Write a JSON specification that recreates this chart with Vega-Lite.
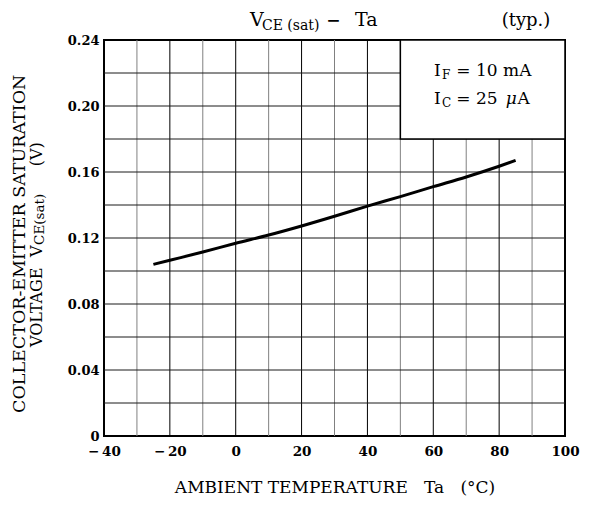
{
  "$schema": "https://vega.github.io/schema/vega-lite/v6.json",
  "width": 461,
  "height": 396,
  "autosize": {"type": "none"},
  "padding": {"left": 104, "top": 40, "right": 25, "bottom": 71},
  "background": "white",
  "config": {
    "view": {"stroke": "black", "strokeWidth": 2},
    "font": "DejaVu Serif",
    "text": {"font": "DejaVu Serif", "fill": "black", "align": "left", "baseline": "alphabetic", "fontWeight": "normal"}
  },
  "datasets": {
    "curve": [
      {"Ta": -25, "V": 0.104},
      {"Ta": -20, "V": 0.1065},
      {"Ta": -10, "V": 0.1115},
      {"Ta": 0, "V": 0.1168},
      {"Ta": 10, "V": 0.1218},
      {"Ta": 20, "V": 0.1273},
      {"Ta": 30, "V": 0.1332},
      {"Ta": 40, "V": 0.1393},
      {"Ta": 50, "V": 0.1451},
      {"Ta": 60, "V": 0.1511},
      {"Ta": 70, "V": 0.157},
      {"Ta": 80, "V": 0.1635},
      {"Ta": 85, "V": 0.167}
    ],
    "one": [{}]
  },
  "data": {"name": "one"},
  "layer": [
    {
      "data": {"values": [{"Ta": -30}, {"Ta": -10}, {"Ta": 10}, {"Ta": 30}, {"Ta": 50}, {"Ta": 70}, {"Ta": 90}]},
      "mark": {"type": "rule", "stroke": "#808080", "strokeWidth": 1},
      "encoding": {"x": {"field": "Ta", "type": "quantitative"}}
    },
    {
      "data": {"values": [{"Ta": -20}, {"Ta": 0}, {"Ta": 20}, {"Ta": 40}, {"Ta": 60}, {"Ta": 80}]},
      "mark": {"type": "rule", "stroke": "black", "strokeWidth": 1},
      "encoding": {"x": {"field": "Ta", "type": "quantitative"}}
    },
    {
      "data": {"values": [{"V": 0.02}, {"V": 0.04}, {"V": 0.06}, {"V": 0.08}, {"V": 0.1}, {"V": 0.12}, {"V": 0.14}, {"V": 0.16}, {"V": 0.18}, {"V": 0.2}, {"V": 0.22}]},
      "mark": {"type": "rule", "stroke": "#1a1a1a", "strokeWidth": 1},
      "encoding": {"y": {"field": "V", "type": "quantitative"}}
    },
    {
      "data": {"name": "curve"},
      "mark": {"type": "line", "color": "black", "strokeWidth": 3, "interpolate": "monotone"},
      "encoding": {
        "x": {
          "field": "Ta", "type": "quantitative",
          "scale": {"domain": [-40, 100], "nice": false, "zero": false},
          "axis": {
            "values": [-40, -20, 0, 20, 40, 60, 80, 100],
            "grid": false,
            "ticks": false,
            "domain": false,
            "labelExpr": "datum.value < 0 ? '−\u2009' + (-datum.value) : '' + datum.value",
            "labelFont": "DejaVu Serif",
            "labelFontSize": 13.5,
            "labelFontWeight": "bold",
            "labelColor": "black",
            "labelPadding": 8,
            "labelFlush": false,
            "labelOverlap": false,
            "title": "AMBIENT TEMPERATURE\u00a0\u00a0\u00a0Ta\u00a0\u00a0\u00a0(°C)",
            "titleFont": "DejaVu Serif",
            "titleFontSize": 17,
            "titleFontWeight": "normal",
            "titleColor": "black",
            "titlePadding": 22
          }
        },
        "y": {
          "field": "V", "type": "quantitative",
          "scale": {"domain": [0, 0.24], "nice": false},
          "axis": {
            "values": [0, 0.04, 0.08, 0.12, 0.16, 0.2, 0.24],
            "grid": false,
            "ticks": false,
            "domain": false,
            "labelExpr": "datum.value === 0 ? '0' : format(datum.value, '.2f')",
            "labelFont": "DejaVu Serif",
            "labelFontSize": 13,
            "labelFontWeight": "bold",
            "labelColor": "black",
            "labelPadding": 5,
            "labelFlush": false,
            "labelOverlap": false,
            "title": null
          }
        }
      }
    },
    {
      "mark": {"type": "rect", "fill": "white", "stroke": "black", "strokeWidth": 1.5},
      "encoding": {"x": {"datum": 50}, "x2": {"datum": 100}, "y": {"datum": 0.18}, "y2": {"datum": 0.24}}
    },
    {"mark": {"type": "text", "fontSize": 19}, "encoding": {"x": {"datum": 4.34}, "y": {"datum": 0.2485}, "text": {"value": "V"}}},
    {"mark": {"type": "text", "fontSize": 14}, "encoding": {"x": {"datum": 7.98}, "y": {"datum": 0.2461}, "text": {"value": "CE (sat)"}}},
    {"mark": {"type": "text", "fontSize": 17, "fontWeight": "bold"}, "encoding": {"x": {"datum": 27.5}, "y": {"datum": 0.2485}, "text": {"value": "−"}}},
    {"mark": {"type": "text", "fontSize": 19}, "encoding": {"x": {"datum": 36.22}, "y": {"datum": 0.2485}, "text": {"value": "Ta"}}},
    {"mark": {"type": "text", "fontSize": 18, "align": "center"}, "encoding": {"x": {"datum": 88.15}, "y": {"datum": 0.2485}, "text": {"value": "(typ.)"}}},
    {"mark": {"type": "text", "fontSize": 17}, "encoding": {"x": {"datum": 60.21}, "y": {"datum": 0.2182}, "text": {"value": "I"}}},
    {"mark": {"type": "text", "fontSize": 12}, "encoding": {"x": {"datum": 62.64}, "y": {"datum": 0.2164}, "text": {"value": "F"}}},
    {"mark": {"type": "text", "fontSize": 17}, "encoding": {"x": {"datum": 67.0}, "y": {"datum": 0.2182}, "text": {"value": "= 10 mA"}}},
    {"mark": {"type": "text", "fontSize": 17}, "encoding": {"x": {"datum": 60.21}, "y": {"datum": 0.2012}, "text": {"value": "I"}}},
    {"mark": {"type": "text", "fontSize": 12}, "encoding": {"x": {"datum": 62.64}, "y": {"datum": 0.1994}, "text": {"value": "C"}}},
    {"mark": {"type": "text", "fontSize": 17}, "encoding": {"x": {"datum": 67.0}, "y": {"datum": 0.2012}, "text": {"value": "= 25"}}},
    {"mark": {"type": "text", "fontSize": 17, "fontStyle": "italic"}, "encoding": {"x": {"datum": 82.0}, "y": {"datum": 0.2012}, "text": {"value": "μ"}}},
    {"mark": {"type": "text", "fontSize": 17}, "encoding": {"x": {"datum": 85.6}, "y": {"datum": 0.2012}, "text": {"value": "A"}}},
    {"mark": {"type": "text", "fontSize": 17.5, "angle": 270, "align": "center"}, "encoding": {"x": {"datum": -63.99}, "y": {"datum": 0.1165}, "text": {"value": "COLLECTOR-EMITTER SATURATION"}}},
    {"mark": {"type": "text", "fontSize": 16, "angle": 270}, "encoding": {"x": {"datum": -58.83}, "y": {"datum": 0.0539}, "text": {"value": "VOLTAGE"}}},
    {"mark": {"type": "text", "fontSize": 16, "angle": 270}, "encoding": {"x": {"datum": -58.83}, "y": {"datum": 0.1085}, "text": {"value": "V"}}},
    {"mark": {"type": "text", "fontSize": 13.5, "angle": 270}, "encoding": {"x": {"datum": -58.22}, "y": {"datum": 0.1158}, "text": {"value": "CE(sat)"}}},
    {"mark": {"type": "text", "fontSize": 16, "angle": 270}, "encoding": {"x": {"datum": -58.83}, "y": {"datum": 0.1635}, "text": {"value": "(V)"}}}
  ]
}
